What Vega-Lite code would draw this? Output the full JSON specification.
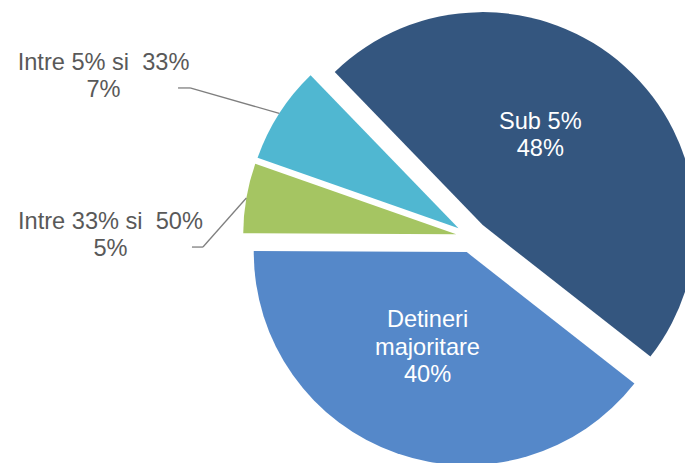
{
  "$schema": "https://vega.github.io/schema/vega-lite/v6.json",
  "width": 426,
  "height": 452,
  "autosize": {"type": "none"},
  "padding": {"left": 259, "top": 11, "right": 0, "bottom": 0},
  "background": "white",
  "config": {"view": {"stroke": null}},
  "data": {
    "values": [
      {"cat": "Sub 5%", "value": 47.8, "ord": 1, "label": "Sub 5%\n48%"},
      {"cat": "Detineri majoritare", "value": 39.5, "ord": 2, "label": "Detineri\nmajoritare\n40%"},
      {"cat": "Intre 33% si 50%", "value": 5.3, "ord": 3, "label": "Intre 33% si\u00a0 50%\n5%"},
      {"cat": "Intre 5% si 33%", "value": 7.4, "ord": 4, "label": "Intre 5% si\u00a0 33%\n7%"}
    ]
  },
  "transform": [
    {"stack": "value", "groupby": [], "sort": [{"field": "ord", "order": "ascending"}], "as": ["v0", "v1"]}
  ],
  "layer": [
    {
      "mark": {
        "type": "arc",
        "radius": 213,
        "stroke": null,
        "x": {"expr": "width/2 + 16*sin(5.5152 + (datum.v0 + datum.v1) * PI / 100)"},
        "y": {"expr": "height/2 - 16*cos(5.5152 + (datum.v0 + datum.v1) * PI / 100)"}
      },
      "encoding": {
        "theta": {"field": "v0", "type": "quantitative", "stack": null, "scale": {"domain": [0, 100], "range": [5.5152, 11.7984]}},
        "theta2": {"field": "v1"},
        "color": {
          "field": "cat", "type": "nominal", "legend": null,
          "scale": {
            "domain": ["Sub 5%", "Detineri majoritare", "Intre 33% si 50%", "Intre 5% si 33%"],
            "range": ["#34567f", "#5588c9", "#a5c562", "#50b7d1"]
          }
        }
      }
    },
    {
      "transform": [{"filter": "datum.ord == 1"}],
      "mark": {"type": "text", "theta": {"expr": "5.5152 + (datum.v0 + datum.v1) * PI / 100"}, "radius": 121, "dx": -12.7, "dy": -25, "align": "center", "baseline": "middle", "font": "Liberation Sans", "fontSize": 23.6, "lineHeight": 27, "lineBreak": "\n", "fill": "white"},
      "encoding": {"text": {"field": "label", "type": "nominal"}}
    },
    {
      "transform": [{"filter": "datum.ord == 2"}],
      "mark": {"type": "text", "theta": {"expr": "5.5152 + (datum.v0 + datum.v1) * PI / 100"}, "radius": 121, "dx": -4.7, "dy": -30.8, "align": "center", "baseline": "middle", "font": "Liberation Sans", "fontSize": 23.6, "lineHeight": 27.5, "lineBreak": "\n", "fill": "white"},
      "encoding": {"text": {"field": "label", "type": "nominal"}}
    },
    {
      "transform": [{"filter": "datum.ord == 4"}],
      "mark": {"type": "text", "theta": {"expr": "5.5152 + (datum.v0 + datum.v1) * PI / 100"}, "radius": 229, "dx": -175.7, "dy": -50.3, "align": "center", "baseline": "middle", "font": "Liberation Sans", "fontSize": 23.6, "lineHeight": 27, "lineBreak": "\n", "fill": "#595959"},
      "encoding": {"text": {"field": "label", "type": "nominal"}}
    },
    {
      "transform": [{"filter": "datum.ord == 3"}],
      "mark": {"type": "text", "theta": {"expr": "5.5152 + (datum.v0 + datum.v1) * PI / 100"}, "radius": 229, "dx": -135.9, "dy": 24.2, "align": "center", "baseline": "middle", "font": "Liberation Sans", "fontSize": 23.6, "lineHeight": 27, "lineBreak": "\n", "fill": "#595959"},
      "encoding": {"text": {"field": "label", "type": "nominal"}}
    },
    {
      "transform": [{"filter": "datum.ord == 4"}],
      "mark": {"type": "rule", "color": "#7f7f7f", "strokeWidth": 1.3},
      "encoding": {
        "x": {"value": {"expr": "width/2 + 229*sin(5.5152 + (datum.v0 + datum.v1) * PI / 100)"}},
        "y": {"value": {"expr": "height/2 - 229*cos(5.5152 + (datum.v0 + datum.v1) * PI / 100)"}},
        "x2": {"value": {"expr": "width/2 + 229*sin(5.5152 + (datum.v0 + datum.v1) * PI / 100) - 89.2"}},
        "y2": {"value": {"expr": "height/2 - 229*cos(5.5152 + (datum.v0 + datum.v1) * PI / 100) - 25.4"}}
      }
    },
    {
      "transform": [{"filter": "datum.ord == 4"}],
      "mark": {"type": "rule", "color": "#7f7f7f", "strokeWidth": 1.3},
      "encoding": {
        "x": {"value": {"expr": "width/2 + 229*sin(5.5152 + (datum.v0 + datum.v1) * PI / 100) - 89.2"}},
        "y": {"value": {"expr": "height/2 - 229*cos(5.5152 + (datum.v0 + datum.v1) * PI / 100) - 25.4"}},
        "x2": {"value": {"expr": "width/2 + 229*sin(5.5152 + (datum.v0 + datum.v1) * PI / 100) - 101.2"}},
        "y2": {"value": {"expr": "height/2 - 229*cos(5.5152 + (datum.v0 + datum.v1) * PI / 100) - 25.4"}}
      }
    },
    {
      "transform": [{"filter": "datum.ord == 3"}],
      "mark": {"type": "rule", "color": "#7f7f7f", "strokeWidth": 1.3},
      "encoding": {
        "x": {"value": {"expr": "width/2 + 229*sin(5.5152 + (datum.v0 + datum.v1) * PI / 100)"}},
        "y": {"value": {"expr": "height/2 - 229*cos(5.5152 + (datum.v0 + datum.v1) * PI / 100)"}},
        "x2": {"value": {"expr": "width/2 + 229*sin(5.5152 + (datum.v0 + datum.v1) * PI / 100) - 43.4"}},
        "y2": {"value": {"expr": "height/2 - 229*cos(5.5152 + (datum.v0 + datum.v1) * PI / 100) + 49.1"}}
      }
    },
    {
      "transform": [{"filter": "datum.ord == 3"}],
      "mark": {"type": "rule", "color": "#7f7f7f", "strokeWidth": 1.3},
      "encoding": {
        "x": {"value": {"expr": "width/2 + 229*sin(5.5152 + (datum.v0 + datum.v1) * PI / 100) - 43.4"}},
        "y": {"value": {"expr": "height/2 - 229*cos(5.5152 + (datum.v0 + datum.v1) * PI / 100) + 49.1"}},
        "x2": {"value": {"expr": "width/2 + 229*sin(5.5152 + (datum.v0 + datum.v1) * PI / 100) - 54.4"}},
        "y2": {"value": {"expr": "height/2 - 229*cos(5.5152 + (datum.v0 + datum.v1) * PI / 100) + 49.1"}}
      }
    }
  ]
}
